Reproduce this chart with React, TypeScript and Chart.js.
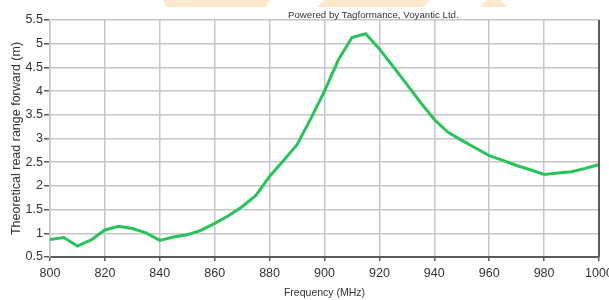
import React, { useEffect, useRef } from "react";
import { Chart, registerables } from "chart.js";

Chart.register(...registerables);

const frequencies = [
  800, 805, 810, 815, 820, 825, 830, 835, 840, 845, 850, 855, 860, 865, 870, 875, 880, 885, 890, 895,
  900, 905, 910, 915, 920, 925, 930, 935, 940, 945, 950, 955, 960, 965, 970, 975, 980, 985, 990, 995, 1000,
];
const readRange = [
  0.87, 0.91, 0.73, 0.86, 1.07, 1.15, 1.1, 1.01, 0.85, 0.92, 0.97, 1.06, 1.21, 1.37, 1.56, 1.8, 2.2, 2.53, 2.87, 3.42,
  4.0, 4.65, 5.13, 5.21, 4.89, 4.52, 4.14, 3.76, 3.4, 3.13, 2.96, 2.8, 2.64, 2.54, 2.43, 2.34, 2.24, 2.27, 2.3, 2.37, 2.45,
];
const xAxisTitle = "Frequency (MHz)";
const yAxisTitle = "Theoretical read range forward (m)";
const creditText = "Powered by Tagformance, Voyantic Ltd.";
const xMin = 800;
const xMax = 1000;
const xStep = 20;
const yMin = 0.5;
const yMax = 5.5;
const yStep = 0.5;

const FONT = "'Liberation Sans', Arial, sans-serif";
const TEXT = "#333333";
const GRID = "#c6c6c6";
const AXIS = "#5a5a5a";
const LINE = "#27c45a";

const decorPlugin = {
  id: "decor",
  beforeDraw(chart: any) {
    const ctx = chart.ctx;
    ctx.save();
    ctx.fillStyle = "rgba(250, 205, 140, 0.45)";
    const shapes = [
      [[163, 0], [270, 0], [266, 7], [166, 7]],
      [[325, 0], [430, 0], [423, 7], [317, 7]],
      [[487, 0], [500, 0], [507, 7], [480, 7]],
    ];
    for (const s of shapes) {
      ctx.beginPath();
      ctx.moveTo(s[0][0], s[0][1]);
      for (let i = 1; i < s.length; i++) ctx.lineTo(s[i][0], s[i][1]);
      ctx.closePath();
      ctx.fill();
    }
    ctx.restore();
  },
  afterDraw(chart: any) {
    const ctx = chart.ctx;
    const a = chart.chartArea;
    ctx.save();
    ctx.strokeStyle = AXIS;
    ctx.lineWidth = 2;
    ctx.beginPath();
    ctx.moveTo(a.right, a.top);
    ctx.lineTo(a.right, a.bottom);
    ctx.stroke();
    ctx.fillStyle = TEXT;
    ctx.font = `9.7px ${FONT}`;
    ctx.textAlign = "left";
    ctx.textBaseline = "middle";
    ctx.fillText(creditText, 288, 15);
    ctx.restore();
  },
};

export default function App() {
  const ref = useRef<HTMLCanvasElement | null>(null);

  useEffect(() => {
    document.body.style.margin = "0";
    if (!ref.current) return;
    const points = frequencies.map((f, i) => ({ x: f, y: readRange[i] }));
    const chart = new Chart(ref.current, {
      type: "line",
      data: {
        datasets: [
          {
            data: points,
            borderColor: LINE,
            borderWidth: 3,
            pointRadius: 0,
            tension: 0,
            fill: false,
          },
        ],
      },
      options: {
        animation: false,
        responsive: false,
        maintainAspectRatio: false,
        layout: { padding: { top: 20, right: 10, left: 0, bottom: 0 } },
        plugins: { legend: { display: false }, tooltip: { enabled: false } },
        scales: {
          x: {
            type: "linear",
            min: xMin,
            max: xMax,
            afterFit(scale: any) {
              scale.height = 43;
              scale.paddingLeft = 0;
              scale.paddingRight = 0;
            },
            ticks: {
              stepSize: xStep,
              color: TEXT,
              font: { family: FONT, size: 12.5 },
              padding: 5,
              maxRotation: 0,
              autoSkip: false,
              callback: (v: any) => String(v),
            },
            grid: { color: GRID, lineWidth: 1.5, tickColor: AXIS, tickLength: 4, tickWidth: 1.5 },
            border: { color: AXIS, width: 2 },
            title: {
              display: true,
              text: xAxisTitle,
              color: TEXT,
              font: { family: FONT, size: 10.5 },
              padding: { top: 0, bottom: 1 },
            },
          },
          y: {
            min: yMin,
            max: yMax,
            afterFit(scale: any) {
              scale.width = 50;
              scale.paddingTop = 0;
              scale.paddingBottom = 0;
            },
            ticks: {
              stepSize: yStep,
              color: TEXT,
              font: { family: FONT, size: 12.5 },
              padding: 1,
              callback: (v: any) => String(Math.round(Number(v) * 10) / 10),
            },
            grid: { color: GRID, lineWidth: 1.5, tickColor: AXIS, tickLength: 6, tickWidth: 1.5 },
            border: { color: GRID, width: 1.5 },
            title: {
              display: true,
              text: yAxisTitle,
              color: TEXT,
              font: { family: FONT, size: 12.5 },
              padding: { top: 9, bottom: 0 },
            },
          },
        },
      },
      plugins: [decorPlugin],
    });
    return () => chart.destroy();
  }, []);

  return (
    <div style={{ width: 609, height: 300 }}>
      <canvas ref={ref} width={609} height={300} style={{ display: "block", width: 609, height: 300 }} />
    </div>
  );
}
